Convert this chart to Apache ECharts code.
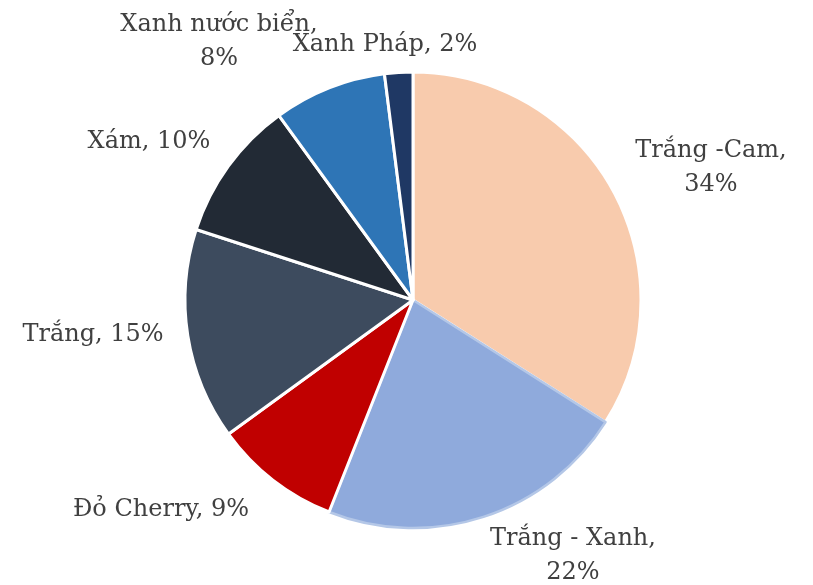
<!DOCTYPE html>
<html><head><meta charset="utf-8">
<script src="https://cdn.jsdelivr.net/npm/echarts@6/dist/echarts.min.js"></script>
<style>html,body{margin:0;padding:0;background:#fff}#c{width:813px;height:585px}</style>
</head><body><div id="c"></div>
<script>
const categories = ["Trắng -Cam", "Trắng - Xanh", "Đỏ Cherry", "Trắng", "Xám", "Xanh nước biển", "Xanh Pháp"];
const values = [34, 22, 9, 15, 10, 8, 2];
const colors = ["#F8CBAD", "#8FAADC", "#C00000", "#3D4B5E", "#222A35", "#2E75B6", "#1F3864"];
const borderColors = ["#fff", "#B4C7E7", "#fff", "#fff", "#fff", "#fff", "#fff"];
const labelText = ["Trắng -Cam,\n34%", "Trắng - Xanh,\n22%", "Đỏ Cherry, 9%", "Trắng, 15%", "Xám, 10%", "Xanh nước biển,\n8%", "Xanh Pháp, 2%"];
// label anchor centres (text placement, not marks)
const labelPos = [[711, 168], [573, 556], [161, 510], [93, 335], [149, 142], [219, 42], [385, 45]];

const chart = echarts.init(document.getElementById('c'));
chart.setOption({
  animation: false,
  series: [{
    type: 'pie',
    center: [413, 300],
    radius: 228,
    startAngle: 90,
    clockwise: true,
    avoidLabelOverlap: false,
    data: categories.map((n, i) => ({
      name: n, value: values[i],
      itemStyle: { color: colors[i], borderColor: borderColors[i], borderWidth: i === 1 ? 2.5 : 3 }
    })),
    label: {
      show: true, position: 'outside',
      formatter: p => labelText[p.dataIndex],
      fontFamily: 'DejaVu Serif', fontSize: 24, color: '#404040',
      lineHeight: 34, align: 'center', overflow: 'none', width: 300
    },
    labelLine: { show: false },
    labelLayout: p => ({ x: labelPos[p.dataIndex][0], y: labelPos[p.dataIndex][1], align: 'center', verticalAlign: 'middle' }),
    emphasis: { disabled: true }
  }]
});
</script></body></html>
